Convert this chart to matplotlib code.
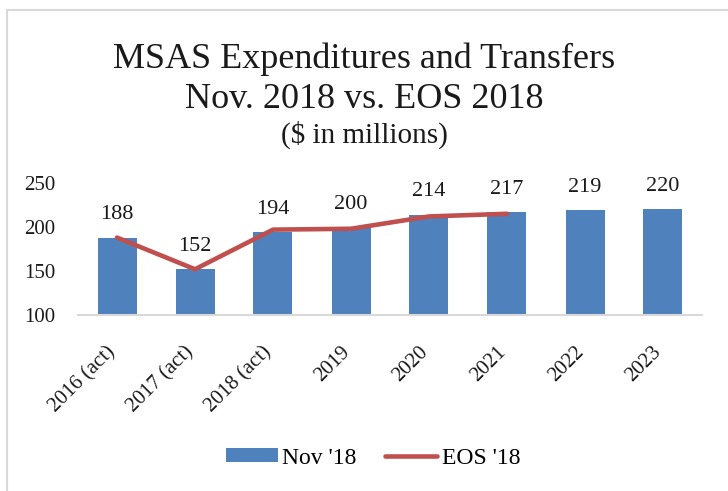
import matplotlib
matplotlib.use("Agg")
import matplotlib.pyplot as plt
from matplotlib.lines import Line2D
from matplotlib.transforms import ScaledTranslation

categories = ["2016 (act)", "2017 (act)", "2018 (act)", "2019", "2020", "2021", "2022", "2023"]
nov18 = [188, 152, 194, 200, 214, 217, 219, 220]
eos18 = [188, 152, 197, 198, 212, 215]
yticks = [100, 150, 200, 250]

plt.rcParams['font.family'] = ['Liberation Serif', 'DejaVu Serif']

fig = plt.figure(figsize=(7.28, 4.91), dpi=100)
ax = fig.add_axes([78/728, 1-315/491, 624/728, 132/491])

x = list(range(len(categories)))
bars = ax.bar(x, nov18, width=0.5, color='#4F81BD', label="Nov '18", zorder=2)
line, = ax.plot(x[:len(eos18)], eos18, color='#C0504D', lw=3.3, solid_capstyle='round',
                label="EOS '18", zorder=3)

for xi, v in zip(x, nov18):
    ax.text(xi, v + 26, str(v), ha='center', va='center', fontsize=16, color='#1a1a1a', zorder=4)

ax.set_ylim(100, 250)
ax.set_xlim(-0.5, len(categories) - 0.5)
ax.set_yticks(yticks)
ax.set_yticklabels([str(t) for t in yticks], fontsize=15, color='#1a1a1a')
ax.set_xticks(x)
ax.set_xticklabels(categories, rotation=45, ha='right', va='center', rotation_mode='anchor',
                   fontsize=15, color='#1a1a1a')
ax.tick_params(axis='both', length=0)
ax.tick_params(axis='y', pad=16.5)
ax.tick_params(axis='x', pad=25)
off = ScaledTranslation(-3/72, 0, fig.dpi_scale_trans)
for lab in ax.get_xticklabels():
    lab.set_transform(lab.get_transform() + off)
for s in ['top', 'right', 'left']:
    ax.spines[s].set_visible(False)
ax.spines['bottom'].set_color('#D9D9D9')
ax.spines['bottom'].set_linewidth(1.5)

fig.text(0.5, 1-59/491, "MSAS Expenditures and Transfers", ha='center', va='center', fontsize=26, color='#1a1a1a')
fig.text(0.5, 1-99/491, "Nov. 2018 vs. EOS 2018", ha='center', va='center', fontsize=26, color='#1a1a1a')
fig.text(0.5, 1-135/491, "($ in millions)", ha='center', va='center', fontsize=21, color='#1a1a1a')

fig.legend(handles=[bars, line], labels=["Nov '18", "EOS '18"], loc='center',
           bbox_to_anchor=(373/728, 1-458/491), ncol=2, frameon=False,
           fontsize=17, handlelength=2.2, handleheight=0.55, columnspacing=1.2, handletextpad=0.2)

# chart border (top and left visible)
fig.add_artist(Line2D([7/728, 7/728], [0, 1-10/491], transform=fig.transFigure, color='#D9D9D9', lw=1.5))
fig.add_artist(Line2D([7/728, 1], [1-10/491, 1-10/491], transform=fig.transFigure, color='#D9D9D9', lw=1.5))

fig.savefig('out.png', dpi=100)
